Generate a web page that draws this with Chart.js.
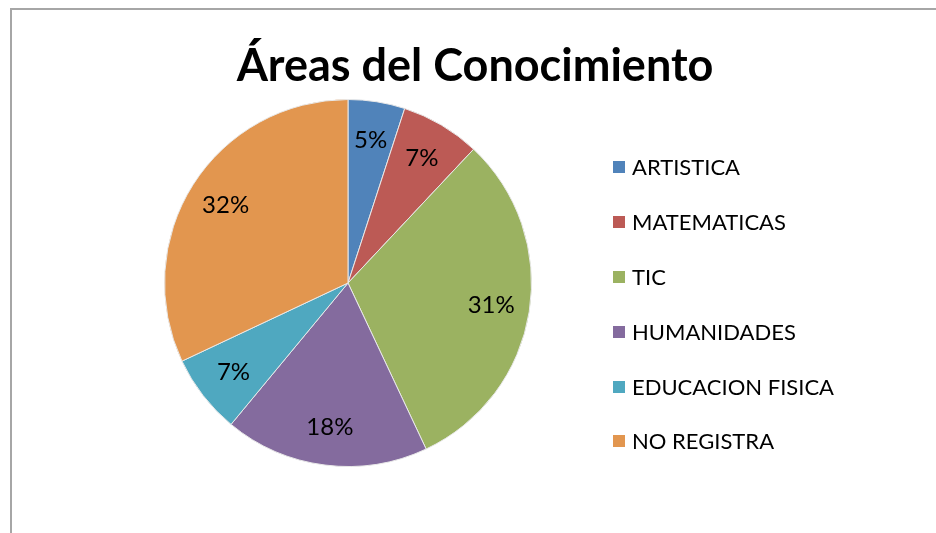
<!DOCTYPE html>
<html>
<head>
<meta charset="utf-8">
<script src="https://cdn.jsdelivr.net/npm/chart.js@4/dist/chart.umd.min.js"></script>
<style>
html,body{margin:0;padding:0;background:#fff;}
#wrap{position:relative;width:936px;height:533px;overflow:hidden;font-family:Lato,"Open Sans",sans-serif;}
#frame{position:absolute;left:10px;top:8px;width:1000px;height:600px;border-left:2px solid #a6a6a6;border-top:2px solid #a6a6a6;box-sizing:border-box;}
#title{position:absolute;left:0;width:950px;top:34px;text-align:center;font-weight:bold;font-size:45px;color:#000;line-height:60px;}
canvas{position:absolute;left:0;top:0;}
#legend{position:absolute;left:613px;top:0;font-size:22px;color:#000;}
.item{position:absolute;left:0;white-space:nowrap;height:24px;line-height:24px;}
.sw{position:absolute;left:0;top:6px;width:12px;height:12px;}
.lt{position:absolute;left:19px;top:0;}
</style>
</head>
<body>
<div id="wrap">
<div id="frame"></div>
<canvas id="c" width="936" height="533"></canvas>
<div id="title">Áreas del Conocimiento</div>
<div id="legend"></div>
</div>
<script>
const titleText = "Áreas del Conocimiento";
const categories = ["ARTISTICA","MATEMATICAS","TIC","HUMANIDADES","EDUCACION FISICA","NO REGISTRA"];
const values = [5, 7, 31, 18, 7, 32];
const colors = ["#5083BA","#BC5A55","#9BB261","#846B9E","#4FA8C0","#E2964F"];

// HTML legend (text kept as real text)
const lg = document.getElementById('legend');
const rowCenters = [167,222,277,332,387,441];
categories.forEach((c,i)=>{
  const d = document.createElement('div');
  d.className='item';
  d.style.top=(rowCenters[i]-12)+'px';
  d.innerHTML='<span class="sw" style="background:'+colors[i]+'"></span><span class="lt">'+c+'</span>';
  lg.appendChild(d);
});

const labelPlugin = {
  id:'pctLabels',
  afterDatasetsDraw(chart){
    const ctx = chart.ctx;
    const meta = chart.getDatasetMeta(0);
    const total = values.reduce((a,b)=>a+b,0);
    ctx.save();
    ctx.font = '24px Lato, "Open Sans", sans-serif';
    ctx.fillStyle = '#000';
    ctx.textAlign='center';
    ctx.textBaseline='middle';
    meta.data.forEach((arc,i)=>{
      const p = arc.getProps(['x','y','startAngle','endAngle','outerRadius'],true);
      const mid = (p.startAngle+p.endAngle)/2;
      const r = p.outerRadius*0.79;
      const x = p.x + Math.cos(mid)*r;
      const y = p.y + Math.sin(mid)*r;
      ctx.fillText(Math.round(values[i]/total*100)+'%', x, y);
    });
    ctx.restore();
  }
};

new Chart(document.getElementById('c'),{
  type:'pie',
  data:{labels:categories,datasets:[{data:values,backgroundColor:colors,borderColor:'#e8e8e8',borderWidth:1}]},
  options:{
    responsive:false,
    animation:false,
    layout:{padding:{left:164,right:404,top:99,bottom:66}},
    plugins:{legend:{display:false},title:{display:false},tooltip:{enabled:false}}
  },
  plugins:[labelPlugin]
});
</script>
</body>
</html>
